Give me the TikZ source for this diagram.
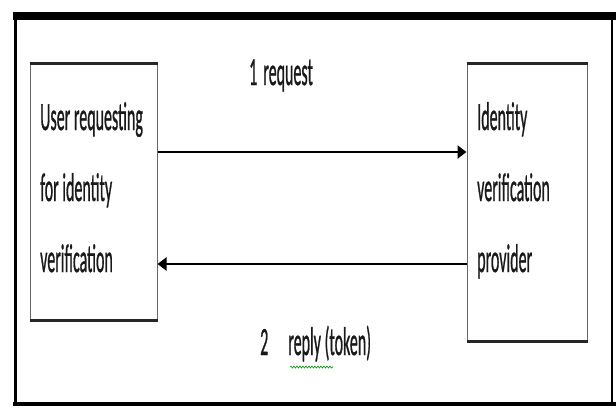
\documentclass[tikz,border=0pt]{standalone}
\usepackage{fontspec}
\setmainfont{Carlito}
\newfontfamily\heavyfont{Carlito}[FakeBold=1.2]
\usetikzlibrary{arrows.meta,decorations.pathmorphing}
\newcommand{\tallrows}[1]{\scalebox{1}[2.5]{\heavyfont\fontsize{16}{28.4}\selectfont\begin{tabular}[t]{@{}l@{}}#1\end{tabular}}}
\tikzset{party/.style={draw=black!60,line width=1pt,inner sep=0pt},
  edge/.style={line width=3pt,draw=black!85},
  words/.style={inner sep=0pt,anchor=base west,text=black!90},
  flow/.style={-{Triangle[length=9pt,width=13pt]},line width=2.5pt},
  squiggle/.style={draw=green!55!black,line width=0.6pt,decorate,decoration={snake,amplitude=1pt,segment length=3pt}}}
\begin{document}
\begin{tikzpicture}[x=1pt,y=-1pt]
\useasboundingbox (0,0) rectangle (616,408);
% outer frame
\draw[line width=8pt] (13,16) -- (616,16);
\draw[line width=3pt] (15,12) -- (15,406);
\draw[line width=4pt] (13,404) -- (616,404);
\draw[line width=2pt] (612,16) -- (612,404);
% the two parties
\node[party,minimum width=127pt,minimum height=256pt] (user) at (93.5,192) {};
\node[party,minimum width=120pt,minimum height=277pt] (idp) at (527,202.5) {};
\foreach \b in {user,idp} {
  \draw[edge] (\b.north west) -- (\b.north east);
  \draw[edge] (\b.south west) -- (\b.south east);
}
\node[words] (usertext) at (40,130) {\tallrows{User requesting\\for identity\\verification}};
\node[words] (idptext) at (477,130) {\tallrows{Identity\\verification\\provider}};
% messages
\draw[flow] ([yshift=40pt]user.east) -- ([yshift=40pt]user.east -| idp.west);
\draw[flow] ([yshift=-72pt]user.east -| idp.west) -- ([yshift=-72pt]user.east);
\node[words] (req) at (249,85) {\tallrows{1\hspace{6pt}request}};
\node[words] (rep) at (260,355) {\tallrows{2\hspace{20pt}reply (token)}};
\draw[squiggle] (290,367) -- (333,367);
\end{tikzpicture}
\end{document}
